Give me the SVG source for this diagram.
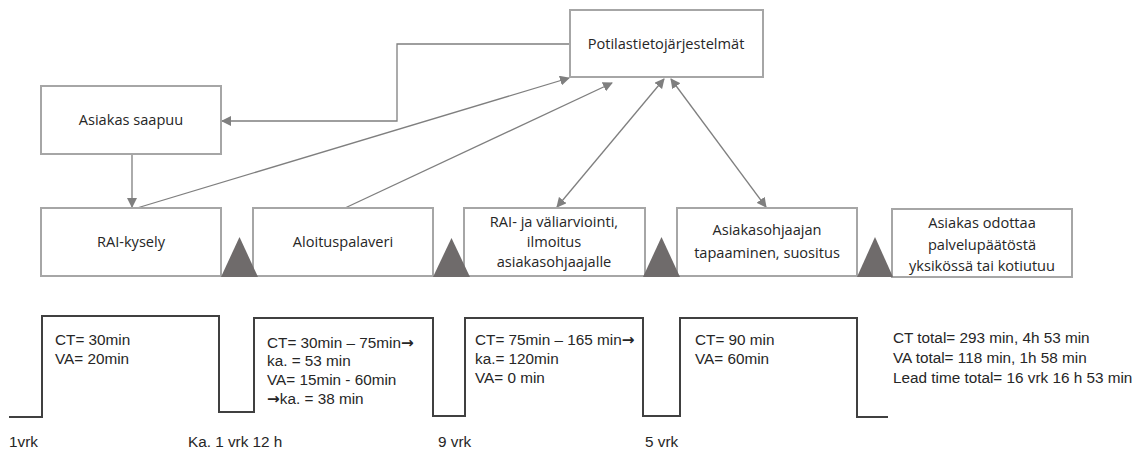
<svg xmlns="http://www.w3.org/2000/svg" width="1143" height="452" viewBox="0 0 1143 452">
<style>
.box{fill:#fff;stroke:#a6a6a6;stroke-width:2}
.lbl{font-family:"Open Sans","Liberation Sans",sans-serif;font-size:14.6px;fill:#262626;text-anchor:middle}
.con{fill:none;stroke:#7f7f7f;stroke-width:1.3}
.tri{fill:#6f6b6b}
.step{fill:none;stroke:#404040;stroke-width:2}
.t{font-family:"Liberation Sans",Arial,sans-serif;font-size:15.3px;fill:#262626}
.ar{font-family:"DejaVu Sans",sans-serif;font-weight:bold}
</style>
<defs>
<marker id="ah" viewBox="0 0 10 10" refX="9" refY="5" markerWidth="10" markerHeight="10" markerUnits="userSpaceOnUse" orient="auto-start-reverse">
<path d="M0,0 L10,5 L0,10 z" fill="#7f7f7f"/>
</marker>
</defs>
<rect width="1143" height="452" fill="#fff"/>
<g id="connectors">
<polyline class="con" points="570,44 397,44 397,121 222,121" marker-end="url(#ah)"/>
<line class="con" x1="132" y1="154" x2="132" y2="207" marker-end="url(#ah)"/>
<line class="con" x1="137" y1="208" x2="569" y2="78" marker-end="url(#ah)"/>
<line class="con" x1="345" y1="208" x2="612" y2="83" marker-end="url(#ah)"/>
<line class="con" x1="557" y1="207" x2="664" y2="79" marker-start="url(#ah)" marker-end="url(#ah)"/>
<line class="con" x1="766" y1="207" x2="671" y2="79" marker-start="url(#ah)" marker-end="url(#ah)"/>
</g>
<g id="node-potilas">
<rect class="box" x="570" y="10" width="193" height="67"/>
<text class="lbl" x="666" y="49">Potilastietojärjestelmät</text>
</g>
<g id="node-saapuu">
<rect class="box" x="41" y="86" width="180" height="68"/>
<text class="lbl" x="131" y="125">Asiakas saapuu</text>
</g>
<g id="node-rai">
<rect class="box" x="41" y="208" width="180" height="68"/>
<text class="lbl" x="131" y="247">RAI-kysely</text>
</g>
<g id="node-aloitus">
<rect class="box" x="253" y="208" width="180" height="68"/>
<text class="lbl" x="343" y="247">Aloituspalaveri</text>
</g>
<g id="node-valiarviointi">
<rect class="box" x="464" y="208" width="181" height="68"/>
<text class="lbl" x="554" y="227">RAI- ja väliarviointi,</text>
<text class="lbl" x="554" y="247">ilmoitus</text>
<text class="lbl" x="554" y="267">asiakasohjaajalle</text>
</g>
<g id="node-tapaaminen">
<rect class="box" x="677" y="208" width="180" height="68"/>
<text class="lbl" x="767" y="235">Asiakasohjaajan</text>
<text class="lbl" x="767" y="258">tapaaminen, suositus</text>
</g>
<g id="node-odottaa">
<rect class="box" x="892" y="209" width="180" height="68"/>
<text class="lbl" x="982" y="228">Asiakas odottaa</text>
<text class="lbl" x="982" y="250">palvelupäätöstä</text>
<text class="lbl" x="982" y="271">yksikössä tai kotiutuu</text>
</g>
<g id="waits">
<polygon class="tri" points="221,277 239.5,237 258,277"/>
<polygon class="tri" points="433,277 451.5,238 470,277"/>
<polygon class="tri" points="643,277 661.5,237 680,277"/>
<polygon class="tri" points="857,277 875,237 893,277"/>
</g>
<g id="timeline">
<polyline class="step" points="9,417 42,417 42,316 219,316 219,412 254,412 254,318 433,318 433,416 465,416 465,318 643,318 643,416 680,416 680,318 857,318 857,417 888,417"/>
</g>
<g id="metrics">
<text class="t" x="55" y="345">CT= 30min</text>
<text class="t" x="55" y="364">VA= 20min</text>
<text class="t" x="267" y="348">CT= 30min – 75min<tspan class="ar">→</tspan></text>
<text class="t" x="267" y="366">ka. = 53 min</text>
<text class="t" x="267" y="385">VA= 15min - 60min</text>
<text class="t" x="267" y="404"><tspan class="ar">→</tspan>ka. = 38 min</text>
<text class="t" x="475" y="345">CT= 75min – 165 min<tspan class="ar">→</tspan></text>
<text class="t" x="475" y="364">ka.= 120min</text>
<text class="t" x="475" y="383">VA= 0 min</text>
<text class="t" x="695" y="345">CT= 90 min</text>
<text class="t" x="695" y="364">VA= 60min</text>
<text class="t" x="893" y="343">CT total= 293 min, 4h 53 min</text>
<text class="t" x="893" y="363">VA total= 118 min, 1h 58 min</text>
<text class="t" x="893" y="383">Lead time total= 16 vrk 16 h 53 min</text>
<text class="t" x="9" y="447">1vrk</text>
<text class="t" x="188" y="447">Ka. 1 vrk 12 h</text>
<text class="t" x="438" y="447">9 vrk</text>
<text class="t" x="645" y="447">5 vrk</text>
</g>
</svg>
